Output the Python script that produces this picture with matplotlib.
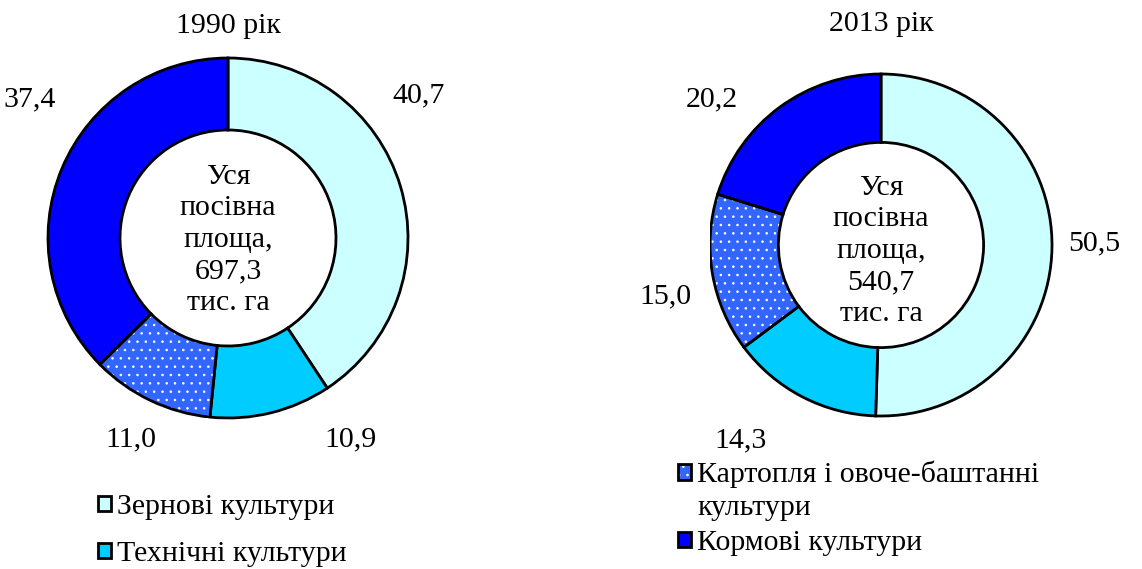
import matplotlib.pyplot as plt

plt.rcParams['font.family'] = ['Liberation Serif', 'DejaVu Serif']
plt.rcParams['hatch.linewidth'] = 0.6

categories = ['Зернові культури', 'Технічні культури',
              'Картопля і овоче-баштанні культури', 'Кормові культури']
years = ['1990 рік', '2013 рік']
shares_1990 = [40.7, 10.9, 11.0, 37.4]
shares_2013 = [50.5, 14.3, 15.0, 20.2]
totals = ['697,3', '540,7']

colors = ['#CCFFFF', '#00CCFF', '#3366FF', '#0000FF']
hatched = 2
FS = 21.5
LW = 2.0

W, H = 1142, 569
fig = plt.figure(figsize=(W / 100, H / 100), dpi=100)


def px_axes(cx, cy, r):
    return fig.add_axes([(cx - r) / W, (H - cy - r) / H, 2 * r / W, 2 * r / H])


# label positions in radius units, per wedge
label_pos = [
    [(1.06, 0.79), (0.68, -1.12), (-0.54, -1.12), (-1.10, 0.77)],
    [(1.25, 0.01), (-0.82, -1.14), (-1.26, -0.30), (-0.99, 0.85)],
]
title_y = [1.18, 1.29]
center_dy = [-0.01, -0.035]

axes = [px_axes(228, 238, 180), px_axes(881, 245, 171)]
handles = []
for i, (ax, shares) in enumerate(zip(axes, [shares_1990, shares_2013])):
    wedges, _ = ax.pie(shares, colors=colors, startangle=90, counterclock=False,
                       radius=1, wedgeprops=dict(width=0.4, edgecolor='black',
                                                 linewidth=LW))
    w = wedges[hatched]
    w.set_hatch('..')
    w.set_edgecolor('white')
    w.set_linewidth(0)
    outline = plt.matplotlib.patches.Wedge(
        (0, 0), 1, w.theta1, w.theta2, width=0.4,
        facecolor='none', edgecolor='black', linewidth=LW)
    ax.add_patch(outline)
    if i == 0:
        handles.append(wedges[:2])
    else:
        handles.append([(w, outline), wedges[3]])
    ax.set_xlim(-1, 1)
    ax.set_ylim(-1, 1)
    ax.axis('off')
    for v, (x, y) in zip(shares, label_pos[i]):
        ax.text(x, y, f'{v:.1f}'.replace('.', ','), ha='center', va='center',
                fontsize=FS)
    ax.text(0, title_y[i], years[i], ha='center', va='center', fontsize=FS)
    ax.text(0, center_dy[i], f'Уся\nпосівна\nплоща,\n{totals[i]}\nтис. га',
            ha='center', va='center', fontsize=FS, linespacing=1.28)

leg_kw = dict(frameon=False, fontsize=FS, handlelength=0.42, handleheight=0.42,
              handletextpad=0.2, borderpad=0, borderaxespad=0, loc='upper left',
              bbox_transform=fig.transFigure)
fig.legend(handles[0], categories[:2], bbox_to_anchor=(98 / W, 1 - 494 / H),
           labelspacing=0.7, **leg_kw)
fig.legend(handles[1], ['Картопля і овоче-баштанні', categories[3]],
           bbox_to_anchor=(678 / W, 1 - 461 / H), labelspacing=1.4, **leg_kw)
fig.text(697 / W, 1 - 508 / H, 'культури', ha='left', va='center', fontsize=FS)

fig.savefig('out.png', dpi=100)
